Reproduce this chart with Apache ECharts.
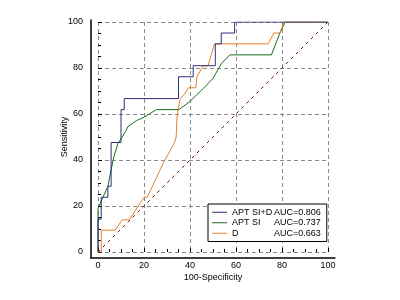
<!DOCTYPE html>
<html>
<head>
<meta charset="utf-8">
<script src="https://cdn.jsdelivr.net/npm/echarts@6/dist/echarts.min.js"></script>
<style>
  html, body { margin: 0; padding: 0; background: #fff; }
  #roc { width: 400px; height: 300px; }
</style>
</head>
<body>
<div id="roc"></div>
<script>
// ROC curves, x = 100-Specificity, y = Sensitivity
var siDX = [0, 0, 1.4, 1.4, 4.3, 4.3, 5.7, 5.7, 10, 10, 11.4, 11.4, 35, 35, 41.4, 41.4, 51, 51, 53.6, 53.6, 59.4, 59.4, 100];
var siDY = [0, 14.3, 14.3, 23.8, 23.8, 28.6, 28.6, 47.6, 47.6, 61.9, 61.9, 66.7, 66.7, 76.2, 76.2, 81, 81, 90.5, 90.5, 95.2, 95.2, 100, 100];

var siX = [0, 0, 2, 4.3, 5.7, 6.8, 8.6, 12, 13, 16.7, 20, 25.4, 35.2, 40, 45.7, 50, 53.7, 57.3, 75.4, 79, 81.4, 100];
var siY = [0, 19, 23.5, 28.5, 35.7, 41, 47, 52.4, 54.5, 57.1, 58.6, 61.9, 61.9, 65.5, 71, 75.5, 82, 85.7, 85.7, 95, 100, 100];

var dX = [0, 1.4, 1.4, 7.5, 10.5, 13.6, 20, 21.4, 28.3, 33.3, 34, 34.3, 34.8, 35.8, 37.5, 39.3, 42.5, 43, 45.7, 47.8, 50.7, 74, 76.5, 79, 81, 100];
var dY = [0, 0, 9.5, 9.5, 14, 14, 23.8, 23.8, 38.5, 47.6, 50, 58, 61.9, 66.7, 68.5, 71.4, 71.4, 76.2, 80.9, 80.9, 90.5, 90.5, 95.2, 95.2, 100, 100];

var diagX = [0, 100];
var diagY = [0, 100];

var names = ["APT SI+D", "APT SI", "D"];
var auc = ["AUC=0.806", "AUC=0.737", "AUC=0.663"];

function pairs(xs, ys) {
  return xs.map(function (x, i) { return [x, ys[i]]; });
}

var font = "Arial, 'Liberation Sans', sans-serif";

var chart = echarts.init(document.getElementById("roc"));
chart.setOption({
  animation: false,
  textStyle: { fontFamily: font },
  grid: [
    { left: 98, right: 72, top: 22, bottom: 48 },   // plot
    { left: 91, right: 65, top: 20, bottom: 42 }    // axis frame
  ],
  xAxis: [
    {
      type: "value", gridIndex: 0, min: 0, max: 100, interval: 20,
      offset: 6,
      name: "100-Specificity", nameLocation: "middle", nameGap: 15, nameMoveOverlap: false,
      nameTextStyle: { fontSize: 9, color: "#000", fontFamily: font },
      axisLine: { show: false },
      axisTick: { show: true, inside: true, length: 4, lineStyle: { color: "#000" } },
      minorTick: { show: true, splitNumber: 4, length: 3, lineStyle: { color: "#000" } },
      axisLabel: { fontSize: 9, color: "#000", margin: 3, fontFamily: font },
      splitLine: { show: true, lineStyle: { color: "#8a8a8a", type: [4, 3], width: 1 } }
    },
    {
      type: "value", gridIndex: 1, min: 0, max: 1,
      axisLine: { show: true, onZero: false, lineStyle: { color: "#000", width: 1.5 } },
      axisTick: { show: false }, axisLabel: { show: false }, splitLine: { show: false }
    }
  ],
  yAxis: [
    {
      type: "value", gridIndex: 0, min: 0, max: 100, interval: 20,
      offset: 7,
      name: "Sensitivity", nameLocation: "middle", nameGap: 22, nameMoveOverlap: false,
      nameTextStyle: { fontSize: 9, color: "#000", fontFamily: font },
      axisLine: { show: false },
      axisTick: { show: true, inside: true, length: 4, lineStyle: { color: "#000" } },
      minorTick: { show: true, splitNumber: 4, length: 3, lineStyle: { color: "#000" } },
      axisLabel: { fontSize: 9, color: "#000", margin: 8, fontFamily: font },
      splitLine: { show: true, lineStyle: { color: "#8a8a8a", type: [4, 3], width: 1 } }
    },
    {
      type: "value", gridIndex: 1, min: 0, max: 1,
      axisLine: { show: true, onZero: false, lineStyle: { color: "#000", width: 1.5 } },
      axisTick: { show: false }, axisLabel: { show: false }, splitLine: { show: false }
    }
  ],
  legend: {
    data: names,
    orient: "vertical",
    left: 208, top: 204,
    padding: [3, 6, 3, 4],
    icon: "rect",
    itemWidth: 15, itemHeight: 1, itemGap: 0,
    borderColor: "#000", borderWidth: 1,
    backgroundColor: "#fff",
    textStyle: {
      fontSize: 9, color: "#000", fontFamily: font, lineHeight: 10.5,
      rich: {
        n: { width: 42, fontSize: 9, lineHeight: 10.5, fontFamily: font, color: "#000" },
        a: { fontSize: 9, lineHeight: 10.5, fontFamily: font, color: "#000" }
      }
    },
    formatter: function (name) {
      return "{n|" + name + "}{a|" + auc[names.indexOf(name)] + "}";
    }
  },
  series: [
    {
      name: "diag", type: "line", symbol: "none", silent: true, z: 1,
      data: pairs(diagX, diagY),
      lineStyle: { color: "#7a0010", width: 1, type: [3, 4] }
    },
    {
      name: names[1], type: "line", symbol: "none", z: 2,
      data: pairs(siX, siY),
      lineStyle: { color: "#1b6b1b", width: 1 }, itemStyle: { color: "#1b6b1b" }
    },
    {
      name: names[2], type: "line", symbol: "none", z: 3,
      data: pairs(dX, dY),
      lineStyle: { color: "#e8802a", width: 1 }, itemStyle: { color: "#e8802a" }
    },
    {
      name: names[0], type: "line", symbol: "none", z: 4,
      data: pairs(siDX, siDY),
      lineStyle: { color: "#2e2e7e", width: 1 }, itemStyle: { color: "#2e2e7e" }
    }
  ]
});
</script>
</body>
</html>
